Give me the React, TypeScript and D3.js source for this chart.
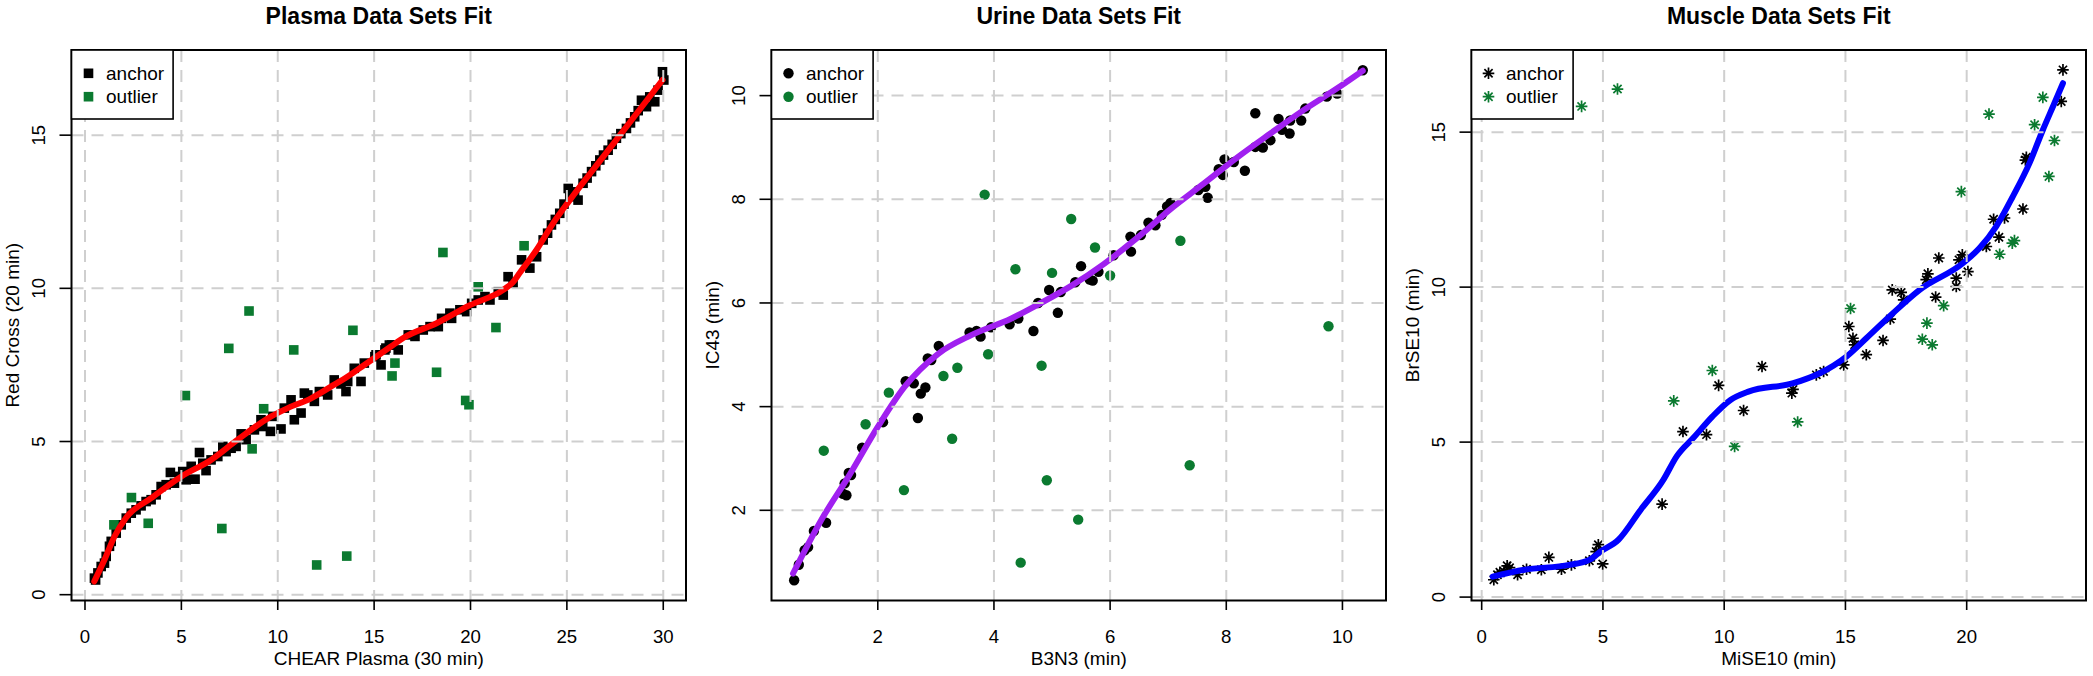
import React from "react";
import * as d3 from "d3";

// ---- data ----
const titles = ["Plasma Data Sets Fit", "Urine Data Sets Fit", "Muscle Data Sets Fit"];
const xLabels = ["CHEAR Plasma (30 min)", "B3N3 (min)", "MiSE10 (min)"];
const yLabels = ["Red Cross (20 min)", "IC43 (min)", "BrSE10 (min)"];
const legendLabels = ["anchor", "outlier"];

const plasmaXTicks = [0, 5, 10, 15, 20, 25, 30];
const plasmaYTicks = [0, 5, 10, 15];
const urineXTicks = [2, 4, 6, 8, 10];
const urineYTicks = [2, 4, 6, 8, 10];
const muscleXTicks = [0, 5, 10, 15, 20];
const muscleYTicks = [0, 5, 10, 15];

const plasmaXDomain = [-0.7, 31.18];
const plasmaYDomain = [-0.19, 17.78];
const urineXDomain = [0.17, 10.75];
const urineYDomain = [0.26, 10.88];
const muscleXDomain = [-0.42, 24.92];
const muscleYDomain = [-0.11, 17.65];

const plasmaAnchors = [
  [0.49, 0.54], [0.55, 0.48], [0.67, 0.71], [0.84, 0.92], [1.01, 1.03], [1.1, 1.25], [1.27, 1.58],
  [1.36, 1.74], [1.62, 2.01], [1.88, 2.28], [2.14, 2.5], [2.4, 2.66], [2.65, 2.77], [2.91, 2.9],
  [3.17, 3.04], [3.43, 3.1], [3.69, 3.26], [3.95, 3.53], [4.21, 3.59], [4.43, 3.99], [4.64, 3.64],
  [4.9, 3.86], [5.07, 4.02], [5.25, 3.75], [5.51, 4.19], [5.71, 3.77], [5.94, 4.64], [6.11, 4.29],
  [6.28, 4.05], [6.54, 4.4], [6.89, 4.51], [7.15, 4.84], [7.32, 4.67], [7.58, 4.78], [7.84, 4.84],
  [8.1, 5.25], [8.36, 5.06], [8.79, 5.38], [9.13, 5.71], [9.22, 5.49], [9.62, 5.33], [9.74, 5.82],
  [10.17, 5.41], [10.34, 6.09], [10.69, 6.36], [10.86, 5.71], [11.21, 5.93], [11.38, 6.58],
  [11.56, 6.52], [11.9, 6.31], [12.16, 6.63], [12.59, 6.52], [12.93, 7.01], [13.28, 6.88],
  [13.54, 6.63], [13.63, 6.96], [13.97, 7.39], [14.32, 6.96], [14.49, 7.56], [15.04, 7.77],
  [15.1, 7.83], [15.36, 7.5], [15.56, 7.99], [15.61, 8.05], [15.79, 8.15], [15.91, 8.15],
  [16.25, 7.99], [16.77, 8.48], [17.12, 8.43], [17.55, 8.64], [17.9, 8.75], [18.33, 8.75],
  [18.5, 9.02], [18.93, 9.19], [19.02, 9.02], [19.45, 9.3], [19.8, 9.24], [20.06, 9.51],
  [20.4, 9.62], [20.75, 9.73], [21.01, 9.62], [21.44, 9.89], [21.7, 9.78], [21.95, 10.38],
  [22.21, 10.17], [22.65, 10.93], [23.08, 10.66], [23.43, 11.03], [23.77, 11.58], [24.0, 11.8],
  [24.2, 12.07], [24.4, 12.25], [24.63, 12.45], [24.85, 12.75], [25.07, 13.26], [25.15, 12.99],
  [25.4, 13.15], [25.58, 12.88], [25.84, 13.43], [26.05, 13.6], [26.28, 13.81], [26.5, 14.0],
  [26.71, 14.19], [26.9, 14.35], [27.14, 14.51], [27.35, 14.7], [27.57, 14.9], [27.8, 15.05],
  [28.09, 15.22], [28.3, 15.4], [28.52, 15.6], [28.7, 15.8], [28.87, 16.14], [29.13, 15.93],
  [29.3, 16.25], [29.56, 16.09], [29.73, 16.47], [29.96, 17.07], [30.03, 16.8],
];
const plasmaOutliers = [
  [8.51, 9.26], [7.46, 8.04], [10.83, 7.99], [13.9, 8.63], [5.21, 6.5], [9.27, 6.07], [8.67, 4.76],
  [2.41, 3.17], [1.5, 2.28], [3.28, 2.33], [7.1, 2.16], [12.02, 0.97], [13.58, 1.26], [18.57, 11.17],
  [22.78, 11.39], [20.4, 10.05], [21.32, 8.72], [16.08, 7.56], [15.93, 7.14], [18.24, 7.26],
  [19.75, 6.34], [19.92, 6.2],
];
const plasmaFit = [
  [0.48, 0.43], [1.01, 1.14], [1.53, 1.9], [2.14, 2.52], [3.43, 3.15], [5.0, 3.86], [6.54, 4.4],
  [7.92, 5.06], [9.66, 5.82], [10.52, 6.09], [11.73, 6.41], [12.76, 6.79], [13.63, 7.12],
  [14.49, 7.5], [15.87, 8.1], [16.51, 8.38], [18.24, 8.86], [19.97, 9.45], [21.7, 9.95],
  [22.2, 10.2], [22.55, 10.5], [23.43, 11.26], [24.29, 12.13], [25.15, 12.88], [26.88, 14.29],
  [28.61, 15.7], [29.96, 16.8],
];

const urineAnchors = [
  [0.56, 0.65], [0.64, 0.95], [0.74, 1.23], [0.8, 1.29], [0.9, 1.6], [1.11, 1.76], [1.4, 2.32],
  [1.46, 2.29], [1.43, 2.52], [1.5, 2.72], [1.54, 2.68], [1.73, 3.21], [2.09, 3.7], [2.48, 4.49],
  [2.62, 4.45], [2.69, 3.78], [2.74, 4.25], [2.82, 4.37], [2.86, 4.93], [2.92, 4.9], [3.05, 5.17],
  [3.58, 5.43], [3.7, 5.46], [3.77, 5.35], [3.95, 5.53], [4.27, 5.59], [4.42, 5.7], [4.68, 5.46],
  [4.76, 6.0], [4.95, 6.25], [5.1, 5.81], [5.15, 6.21], [5.4, 6.4], [5.5, 6.71], [5.65, 6.45],
  [5.7, 6.43], [5.8, 6.6], [6.06, 6.92], [6.36, 6.99], [6.35, 7.28], [6.53, 7.31], [6.66, 7.55],
  [6.78, 7.5], [6.89, 7.7], [6.98, 7.86], [7.04, 7.93], [7.52, 8.18], [7.64, 8.24], [7.68, 8.03],
  [7.87, 8.58], [7.94, 8.47], [7.97, 8.77], [8.13, 8.72], [8.32, 8.55], [8.5, 9.01], [8.5, 9.66],
  [8.63, 9.0], [8.76, 9.14], [8.9, 9.55], [8.96, 9.34], [9.09, 9.27], [9.1, 9.52], [9.29, 9.52],
  [9.36, 9.75], [9.73, 9.98], [9.91, 10.04], [10.35, 10.49],
];
const urineOutliers = [
  [4.37, 6.65], [5.0, 6.58], [3.9, 5.01], [3.37, 4.75], [3.13, 4.59], [4.82, 4.79], [2.19, 4.27],
  [1.79, 3.66], [3.28, 3.38], [1.07, 3.15], [2.45, 2.39], [4.91, 2.58], [5.45, 1.82], [4.46, 0.99],
  [3.84, 8.09], [5.33, 7.62], [5.74, 7.07], [7.21, 7.2], [6.0, 6.53], [9.76, 5.55], [7.37, 2.87],
];
const urineFit = [
  [0.54, 0.78], [1.03, 1.82], [1.49, 2.64], [2.0, 3.61], [2.46, 4.38], [3.04, 5.02], [3.61, 5.38],
  [4.3, 5.7], [4.76, 5.97], [5.33, 6.33], [5.89, 6.75], [6.46, 7.25], [7.03, 7.8], [7.61, 8.3],
  [8.18, 8.8], [8.76, 9.27], [9.33, 9.72], [9.91, 10.14], [10.35, 10.48],
];

const muscleAnchors = [
  [0.5, 0.56], [0.65, 0.72], [0.75, 0.8], [0.92, 0.83], [1.05, 1.01], [1.15, 0.95], [1.48, 0.72],
  [1.85, 0.9], [2.46, 0.88], [2.77, 1.28], [3.29, 0.9], [3.7, 1.04], [4.44, 1.17], [4.72, 1.47],
  [4.81, 1.69], [4.99, 1.07], [7.44, 3.0], [8.3, 5.34], [9.27, 5.24], [9.77, 6.83], [10.8, 6.02],
  [11.56, 7.44], [12.79, 6.58], [12.84, 6.7], [13.8, 7.17], [14.1, 7.28], [14.93, 7.49],
  [15.14, 8.73], [15.31, 8.35], [15.38, 8.14], [15.86, 7.82], [16.55, 8.28], [16.85, 8.97],
  [16.93, 9.91], [17.3, 9.83], [17.4, 9.59], [18.33, 10.24], [18.4, 10.43], [18.72, 9.68],
  [18.85, 10.94], [19.57, 10.02], [19.57, 10.29], [19.68, 10.88], [19.82, 11.04], [20.05, 10.5],
  [20.81, 11.31], [21.11, 12.19], [21.33, 11.61], [21.56, 12.23], [22.32, 12.52], [22.42, 14.1],
  [22.46, 14.19], [23.9, 15.99], [23.97, 17.01],
];
const muscleOutliers = [
  [4.12, 15.83], [5.6, 16.39], [7.92, 6.33], [9.51, 7.31], [10.43, 4.86], [13.03, 5.65],
  [15.21, 9.31], [18.17, 8.32], [18.36, 8.84], [18.58, 8.14], [19.05, 9.4], [19.78, 13.08],
  [20.92, 15.58], [21.36, 11.06], [21.88, 11.42], [21.97, 11.5], [22.8, 15.24], [23.14, 16.12],
  [23.39, 13.57], [23.62, 14.73],
];
const muscleFit = [
  [0.45, 0.66], [1.76, 0.88], [3.61, 1.04], [4.44, 1.2], [4.9, 1.47], [5.64, 1.85], [6.56, 2.82],
  [7.49, 3.78], [8.04, 4.54], [8.78, 5.18], [9.52, 5.83], [10.26, 6.36], [11.0, 6.63],
  [12.85, 6.9], [13.96, 7.23], [15.04, 7.76], [15.86, 8.35], [16.96, 9.16], [18.06, 9.91],
  [19.84, 10.77], [20.53, 11.26], [21.22, 11.96], [21.9, 12.92], [22.59, 14.0], [23.14, 15.07],
  [23.62, 15.94], [23.97, 16.58],
];

// ---- layout / style ----
const W = 2093;
const H = 676;
const font = "'Liberation Sans', Arial, Helvetica, sans-serif";
const outlierColor = "#0b7a30";
const gridColor = "#cfcfcf";
const panelStep = 700;
const box = { left: 71.5, right: 686, top: 50, bottom: 600.5 };

const panels = [
  {
    xDomain: plasmaXDomain, yDomain: plasmaYDomain, xTicks: plasmaXTicks, yTicks: plasmaYTicks,
    anchors: plasmaAnchors, outliers: plasmaOutliers, fit: plasmaFit, fitColor: "#ff0000", shape: "square",
  },
  {
    xDomain: urineXDomain, yDomain: urineYDomain, xTicks: urineXTicks, yTicks: urineYTicks,
    anchors: urineAnchors, outliers: urineOutliers, fit: urineFit, fitColor: "#a020f0", shape: "circle",
  },
  {
    xDomain: muscleXDomain, yDomain: muscleYDomain, xTicks: muscleXTicks, yTicks: muscleYTicks,
    anchors: muscleAnchors, outliers: muscleOutliers, fit: muscleFit, fitColor: "#0000ff", shape: "star",
  },
];

function Marker({ shape, x, y, color }) {
  if (shape === "square") {
    return <rect x={x - 4.8} y={y - 4.8} width={9.6} height={9.6} fill={color} />;
  }
  if (shape === "circle") {
    return <circle cx={x} cy={y} r={5.2} fill={color} />;
  }
  const r = 5.8;
  const d = r * 0.7071;
  return (
    <path
      d={`M${x - r},${y}H${x + r}M${x},${y - r}V${y + r}M${x - d},${y - d}L${x + d},${y + d}M${x - d},${y + d}L${x + d},${y - d}`}
      stroke={color}
      strokeWidth={1.7}
      fill="none"
    />
  );
}

function Panel({ cfg, i }) {
  const ox = i * panelStep;
  const left = ox + box.left;
  const right = ox + box.right;
  const x = d3.scaleLinear().domain(cfg.xDomain).range([left, right]);
  const y = d3.scaleLinear().domain(cfg.yDomain).range([box.bottom, box.top]);
  const line = d3
    .line()
    .x((d) => x(d[0]))
    .y((d) => y(d[1]))
    .curve(d3.curveMonotoneX);
  const cx = (left + right) / 2;
  const cy = (box.top + box.bottom) / 2;

  return (
    <g>
      <text x={cx} y={24} textAnchor="middle" fontSize={23} fontWeight="bold" fontFamily={font}>
        {titles[i]}
      </text>

      {cfg.anchors.map((d, k) => (
        <Marker key={"a" + k} shape={cfg.shape} x={x(d[0])} y={y(d[1])} color="#000" />
      ))}
      {cfg.outliers.map((d, k) => (
        <Marker key={"o" + k} shape={cfg.shape} x={x(d[0])} y={y(d[1])} color={outlierColor} />
      ))}
      <path d={line(cfg.fit)} fill="none" stroke={cfg.fitColor} strokeWidth={6} strokeLinecap="round" />

      {/* dashed grid drawn on top, like abline after plotting */}
      {cfg.xTicks.map((t) => (
        <line key={"gx" + t} x1={x(t)} x2={x(t)} y1={box.top} y2={box.bottom}
          stroke={gridColor} strokeWidth={2} strokeDasharray="12,8" />
      ))}
      {cfg.yTicks.map((t) => (
        <line key={"gy" + t} x1={left} x2={right} y1={y(t)} y2={y(t)}
          stroke={gridColor} strokeWidth={2} strokeDasharray="12,8" />
      ))}

      <rect x={left} y={box.top} width={right - left} height={box.bottom - box.top}
        fill="none" stroke="#000" strokeWidth={2} />

      {cfg.xTicks.map((t) => (
        <g key={"tx" + t}>
          <line x1={x(t)} x2={x(t)} y1={box.bottom} y2={box.bottom + 9.5} stroke="#000" strokeWidth={1.6} />
          <text x={x(t)} y={box.bottom + 42.5} textAnchor="middle" fontSize={18.6} fontFamily={font}>
            {t}
          </text>
        </g>
      ))}
      {cfg.yTicks.map((t) => (
        <g key={"ty" + t}>
          <line x1={left - 12} x2={left} y1={y(t)} y2={y(t)} stroke="#000" strokeWidth={1.6} />
          <text transform={`translate(${left - 26.5},${y(t)}) rotate(-90)`} textAnchor="middle"
            fontSize={18.6} fontFamily={font}>
            {t}
          </text>
        </g>
      ))}

      <text x={cx} y={box.bottom + 64} textAnchor="middle" fontSize={19} fontFamily={font}>
        {xLabels[i]}
      </text>
      <text transform={`translate(${left - 53},${cy}) rotate(-90)`} textAnchor="middle" fontSize={19}
        fontFamily={font}>
        {yLabels[i]}
      </text>

      {/* legend */}
      <rect x={left} y={box.top} width={101.6} height={69} fill="#fff" stroke="#000" strokeWidth={1.6} />
      {legendLabels.map((lab, k) => (
        <g key={lab}>
          <Marker shape={cfg.shape} x={left + 17} y={box.top + 23.3 + k * 23.4}
            color={k === 0 ? "#000" : outlierColor} />
          <text x={left + 34.5} y={box.top + 23.3 + k * 23.4} dy="0.35em" fontSize={19} fontFamily={font}>
            {lab}
          </text>
        </g>
      ))}
    </g>
  );
}

export default function App() {
  return (
    <>
      <style>{"body{margin:0;overflow:hidden}"}</style>
      <svg width={W} height={H} style={{ position: "absolute", left: 0, top: 0, background: "#fff" }}>
        <rect width={W} height={H} fill="#fff" />
        {panels.map((p, i) => (
          <Panel key={i} cfg={p} i={i} />
        ))}
      </svg>
    </>
  );
}
